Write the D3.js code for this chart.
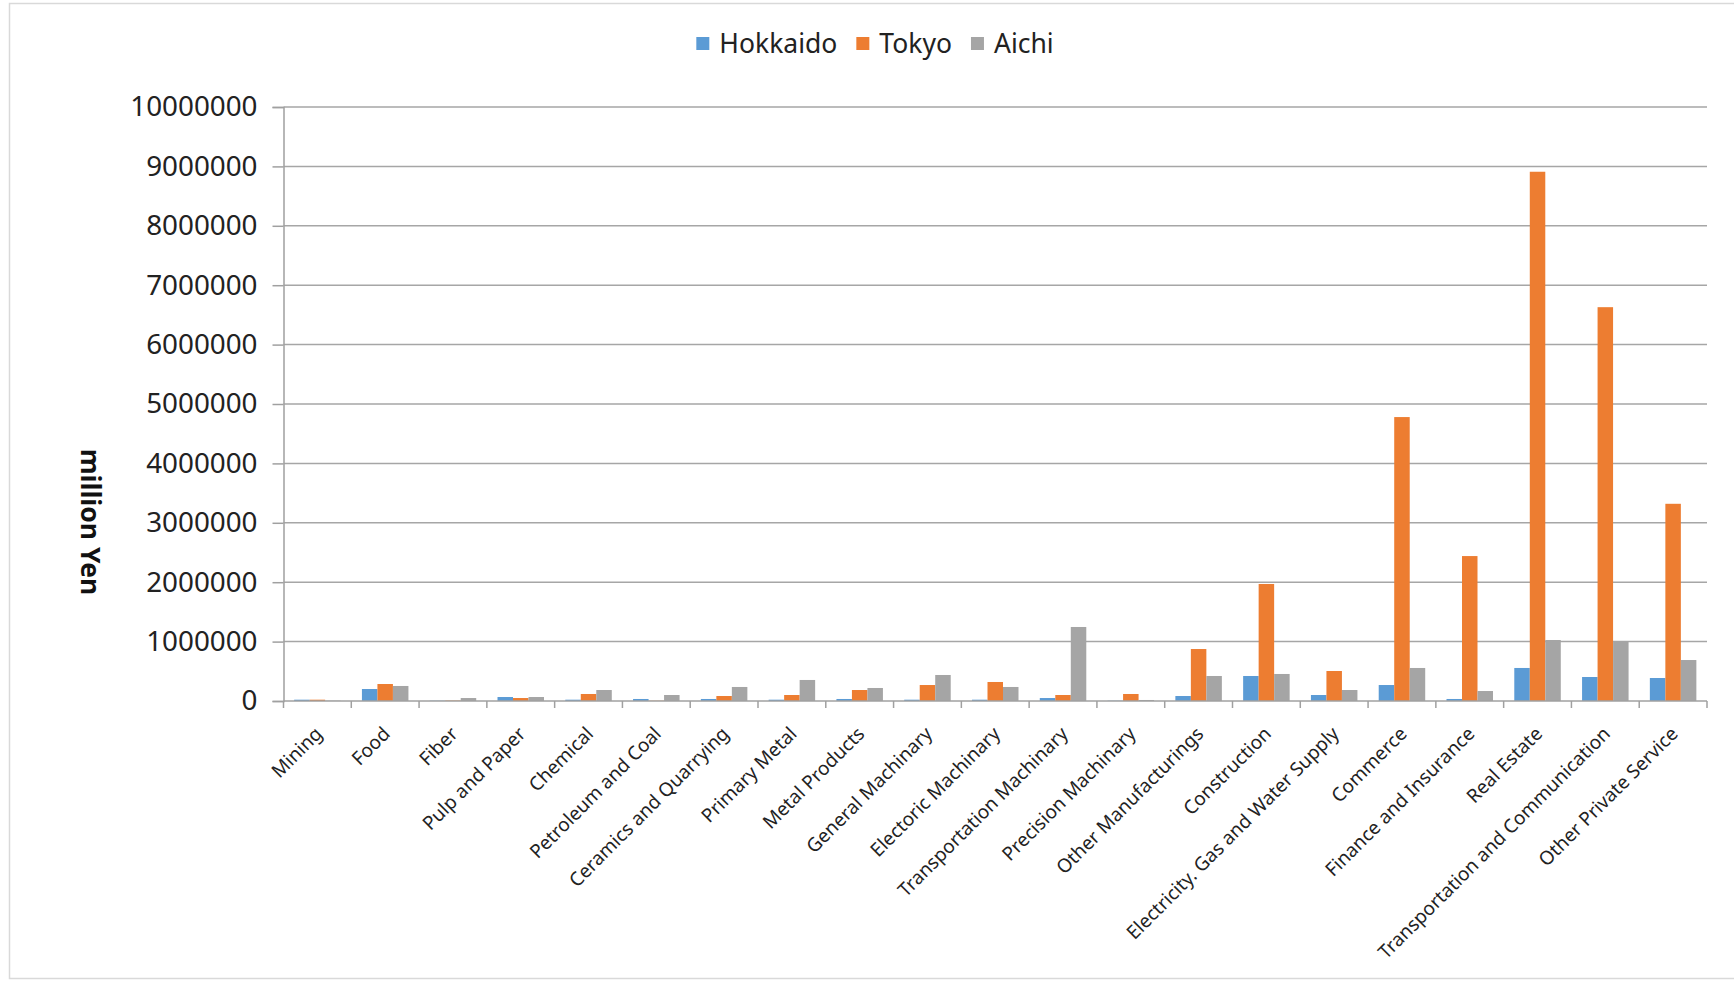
<!DOCTYPE html>
<html>
<head>
<meta charset="utf-8">
<script src="https://cdn.jsdelivr.net/npm/d3@7"></script>
<style>
  html, body { margin: 0; padding: 0; background: #fff; }
  svg { display: block; font-family: "Noto Sans", "Open Sans", sans-serif; }
</style>
</head>
<body>
<div id="chart"></div>
<script>
// categories (x axis) and one value list per prefecture, in million Yen
const categories = [
    "Mining", "Food", "Fiber", "Pulp and Paper", "Chemical", "Petroleum and Coal",
    "Ceramics and Quarrying", "Primary Metal", "Metal Products", "General Machinary",
    "Electoric Machinary", "Transportation Machinary", "Precision Machinary",
    "Other Manufacturings", "Construction", "Electricity. Gas and Water Supply",
    "Commerce", "Finance and Insurance", "Real Estate",
    "Transportation and Communication", "Other Private Service"
];
const seriesNames = ["Hokkaido", "Tokyo", "Aichi"];
const hokkaido = [22000, 202000, 5000, 67000, 22000, 34000, 34000, 22000, 34000, 22000,
    22000, 50000, 5000, 84000, 421000, 101000, 269000, 34000, 556000, 404000, 387000];
const tokyo = [22000, 286000, 8000, 50000, 118000, 5000, 84000, 101000, 185000, 269000,
    320000, 101000, 118000, 875000, 1970000, 505000, 4780000, 2440000, 8910000, 6630000, 3320000];
const aichi = [5000, 253000, 50000, 67000, 185000, 101000, 236000, 354000, 219000, 438000,
    236000, 1246000, 17000, 421000, 455000, 185000, 556000, 168000, 1027000, 1010000, 690000];
const yTicks = [0, 1000000, 2000000, 3000000, 4000000, 5000000, 6000000, 7000000, 8000000, 9000000, 10000000];
const colors = ["#5b9bd5", "#ed7d31", "#a5a5a5"];

const width = 1734, height = 981;
const plot = {left: 283.5, right: 1707, top: 107, bottom: 701};

const svg = d3.select("#chart").append("svg")
    .attr("width", width)
    .attr("height", height);

// light frame round the chart area
svg.append("rect")
    .attr("x", 9.5).attr("y", 3.5)
    .attr("width", 1800).attr("height", 975)
    .attr("fill", "none")
    .attr("stroke", "#d9d9d9")
    .attr("stroke-width", 1.5);

let y = d3.scaleLinear()
    .domain([0, 10000000])
    .range([plot.bottom, plot.top]);

let x0 = d3.scaleBand()
    .domain(categories)
    .range([plot.left, plot.right])
    .padding(0);

let groupPad = x0.bandwidth() * 0.157;
let x1 = d3.scaleBand()
    .domain(seriesNames)
    .range([groupPad, x0.bandwidth() - groupPad])
    .padding(0);

// gridlines
svg.append("g")
    .selectAll("line")
    .data(yTicks.filter(d => d > 0))
    .enter().append("line")
    .attr("x1", plot.left).attr("x2", plot.right)
    .attr("y1", d => y(d)).attr("y2", d => y(d))
    .attr("stroke", "#a6a6a6")
    .attr("stroke-width", 1.5);

// y axis
let yAxis = d3.axisLeft(y)
    .tickValues(yTicks)
    .tickSize(11)
    .tickPadding(15)
    .tickFormat(d3.format("d"));
let yG = svg.append("g")
    .attr("transform", `translate(${plot.left},0)`)
    .call(yAxis);
yG.select(".domain").attr("stroke", "#a0a0a0").attr("stroke-width", 1.5);
yG.selectAll(".tick line").attr("stroke", "#a0a0a0").attr("stroke-width", 1.5);
yG.selectAll(".tick text")
    .attr("font-family", "Noto Sans")
    .attr("font-size", 27.8)
    .attr("fill", "#222");

// bars
let rows = categories.map((c, i) => ({
    category: c,
    values: [hokkaido[i], tokyo[i], aichi[i]]
}));

svg.append("g")
    .selectAll("g")
    .data(rows)
    .enter().append("g")
    .attr("transform", d => `translate(${x0(d.category)},0)`)
    .selectAll("rect")
    .data(d => d.values.map((v, k) => ({name: seriesNames[k], value: v, k: k})))
    .enter().append("rect")
    .attr("x", d => x1(d.name))
    .attr("width", x1.bandwidth())
    .attr("y", d => y(d.value))
    .attr("height", d => y(0) - y(d.value))
    .attr("fill", d => colors[d.k]);

// x axis: ticks sit between categories
let xG = svg.append("g");
xG.append("line")
    .attr("x1", plot.left).attr("x2", plot.right)
    .attr("y1", plot.bottom).attr("y2", plot.bottom)
    .attr("stroke", "#a0a0a0").attr("stroke-width", 1.5);
xG.selectAll("line.tick")
    .data(d3.range(categories.length + 1))
    .enter().append("line")
    .attr("class", "tick")
    .attr("x1", i => plot.left + i * x0.step())
    .attr("x2", i => plot.left + i * x0.step())
    .attr("y1", plot.bottom).attr("y2", plot.bottom + 7)
    .attr("stroke", "#a0a0a0").attr("stroke-width", 1.5);
xG.selectAll("text")
    .data(categories)
    .enter().append("text")
    .attr("transform", d => `translate(${x0(d) + x0.bandwidth() / 2 + 6},${plot.bottom + 34}) rotate(-45)`)
    .attr("text-anchor", "end")
    .attr("font-size", 19)
    .attr("fill", "#222")
    .text(d => d);

// y axis title
svg.append("text")
    .attr("transform", "translate(90,522) rotate(90)")
    .attr("text-anchor", "middle")
    .attr("dy", "0.35em")
    .attr("font-size", 26.5)
    .attr("font-weight", "bold")
    .attr("fill", "#111")
    .text("million Yen");

// legend, centred above the plot
let legend = svg.append("g").attr("transform", "translate(0,44)");
let items = legend.selectAll("g")
    .data(seriesNames)
    .enter().append("g");
items.append("rect")
    .attr("width", 13).attr("height", 13)
    .attr("y", -7)
    .attr("fill", (d, i) => colors[i]);
items.append("text")
    .attr("x", 23)
    .attr("dy", "0.35em")
    .attr("font-size", 26.5)
    .attr("fill", "#222")
    .text(d => d);
let offset = 0;
let widths = [];
items.each(function() {
    let w = 23 + d3.select(this).select("text").node().getComputedTextLength();
    widths.push(w);
});
let total = d3.sum(widths) + 19 * (widths.length - 1);
offset = 875 - total / 2;
items.attr("transform", (d, i) => {
    let t = `translate(${offset},0)`;
    offset += widths[i] + 19;
    return t;
});
</script>
</body>
</html>
